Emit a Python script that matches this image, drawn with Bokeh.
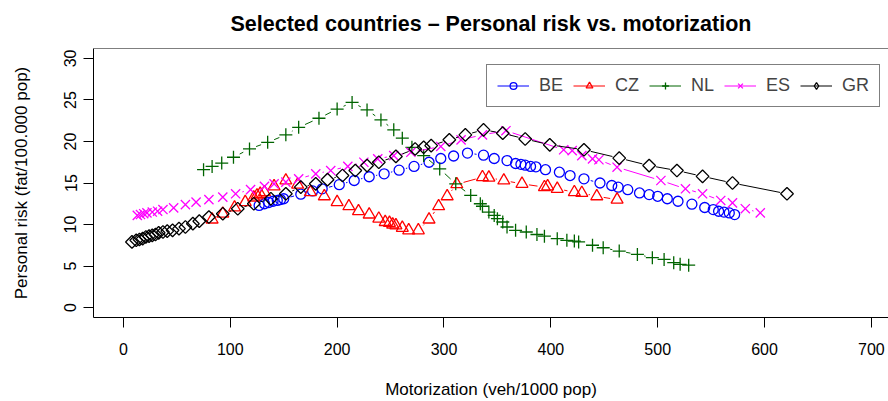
import numpy as np
from bokeh.plotting import figure
from bokeh.models import (Range1d, FixedTicker, Span, Legend, LegendItem,
                          ColumnDataSource)
from bokeh.embed import file_html
from bokeh.resources import INLINE

# ---------------- data ----------------
be_x = [127, 132, 136, 140, 144, 147, 150, 166, 177, 186, 202, 216, 230, 244, 258, 272,
        286, 297, 309, 322, 337, 347, 359, 367, 372, 376, 381, 386, 395, 408, 418, 431,
        446, 457, 463, 472, 483, 492, 500, 509, 519, 532, 544, 552, 557, 562, 567, 572]
be_y = [12.3, 12.5, 12.65, 12.8, 12.9, 13.0, 13.1, 13.65, 14.05, 14.3, 14.8, 15.3, 15.75,
        16.1, 16.55, 17.0, 17.5, 17.95, 18.25, 18.6, 18.35, 17.95, 17.7, 17.35, 17.25,
        17.15, 17.0, 16.95, 16.6, 16.3, 15.9, 15.5, 15.0, 14.7, 14.5, 14.2, 13.8, 13.6,
        13.4, 13.1, 12.8, 12.45, 12.05, 11.8, 11.6, 11.5, 11.4, 11.2]

cz_x = [83, 93, 104, 114, 122, 125, 128, 132, 141, 152, 163, 175, 188, 200, 211, 220, 230,
        239, 245, 249, 252, 255, 261, 267, 276, 286, 295, 303, 312, 336, 342, 356, 373,
        394, 397, 406, 422, 429, 443, 462]
cz_y = [10.6, 11.3, 12.05, 12.7, 13.25, 13.5, 13.7, 13.9, 14.6, 15.3, 14.8, 13.9, 13.4,
        12.7, 12.2, 11.6, 11.2, 10.7, 10.3, 10.2, 10.0, 9.9, 9.6, 9.3, 9.3, 10.6, 12.2,
        13.4, 14.85, 15.7, 15.65, 15.3, 14.9, 14.5, 14.6, 14.3, 13.9, 13.8, 13.4, 13.0]

nl_x = [75, 83, 92, 103, 118, 135, 152, 164, 183, 200, 214, 228, 241, 253, 261, 270, 281,
        296, 311, 325, 334, 336, 342, 347, 350, 355, 359, 367, 377, 387, 394, 406, 415,
        422, 426, 439, 449, 464, 481, 495, 506, 515, 521, 529]
nl_y = [16.6, 17.0, 17.4, 18.1, 19.1, 19.9, 20.8, 21.7, 22.8, 23.9, 24.7, 23.8, 22.6, 21.4,
        20.4, 19.3, 18.3, 16.7, 14.9, 13.5, 12.5, 12.2, 11.5, 11.1, 10.7, 10.3, 9.7, 9.3,
        9.1, 8.8, 8.6, 8.3, 8.1, 8.0, 7.9, 7.5, 7.2, 6.8, 6.4, 6.0, 5.8, 5.4, 5.2, 5.1]

es_x = [13, 16, 19, 22, 27, 32, 37, 47, 58, 68, 80, 93, 105, 119, 132, 141, 152, 164, 180,
        194, 210, 225, 238, 253, 269, 297, 316, 336, 358, 412, 420, 429, 439, 445, 462,
        503, 526, 542, 559, 570, 582, 596]
es_y = [11.1, 11.2, 11.3, 11.4, 11.5, 11.6, 11.8, 12.0, 12.4, 12.7, 13.0, 13.3, 13.7, 14.2,
        14.6, 14.9, 15.1, 15.5, 16.1, 16.5, 17.0, 17.5, 17.9, 18.3, 18.7, 19.4, 20.2, 20.8,
        21.3, 19.0, 18.9, 18.3, 17.9, 17.8, 16.9, 15.3, 14.3, 13.7, 12.9, 12.6, 11.9, 11.4]

gr_x = [8, 12, 15, 18, 21, 24, 27, 30, 33, 37, 41, 46, 52, 58, 65, 71, 80, 93, 107, 122,
        138, 152, 166, 180, 191, 205, 217, 228, 239, 255, 273, 281, 288, 305, 320, 337,
        355, 376, 399, 431, 464, 492, 518, 542, 570, 621]
gr_y = [7.9, 8.1, 8.2, 8.3, 8.5, 8.6, 8.7, 8.8, 9.0, 9.1, 9.2, 9.3, 9.5, 9.7, 10.1, 10.4,
        10.9, 11.3, 11.9, 12.5, 13.1, 13.7, 14.5, 14.9, 15.4, 15.9, 16.5, 17.1, 17.5, 18.2,
        19.1, 19.3, 19.5, 20.2, 20.8, 21.4, 21.0, 20.3, 19.6, 19.0, 18.0, 17.1, 16.5, 15.8,
        15.0, 13.7]

countries = ["BE", "CZ", "NL", "ES", "GR"]
x_ticks = [0, 100, 200, 300, 400, 500, 600, 700]
y_ticks = [0, 5, 10, 15, 20, 25, 30]
title_text = "Selected countries \u2013 Personal risk vs. motorization"

# ---------------- figure ----------------
X0, X1 = -28, 716
Y0, Y1 = -1.2, 31.2
FRAME_W, FRAME_H = 795, 270
FONT = "Liberation Sans"

p = figure(width=888, height=401, x_range=Range1d(X0, X1), y_range=Range1d(Y0, Y1),
           output_backend="svg", toolbar_location=None,
           min_border_left=93, min_border_right=0, min_border_top=48, min_border_bottom=83)
p.extra_y_ranges = {"hidden": Range1d(1000, 1001)}
p.grid.visible = False
p.outline_line_color = None
p.background_fill_color = "white"
p.border_fill_color = "white"

p.title.text = title_text
p.title.text_font = FONT
p.title.text_font_size = "21.5px"
p.title.text_font_style = "bold"
p.title.text_color = "black"
p.title.align = "center"
p.title.vertical_align = "top"
p.title.standoff = 22

for ax in (p.xaxis[0], p.yaxis[0]):
    ax.axis_line_color = "black"
    ax.axis_line_width = 1
    ax.major_tick_out = 10
    ax.major_tick_in = 0
    ax.minor_tick_out = 0
    ax.minor_tick_in = 0
    ax.major_tick_line_color = "black"
    ax.major_label_text_font = FONT
    ax.major_label_text_font_size = "16px"
    ax.major_label_text_color = "black"
    ax.axis_label_text_font = FONT
    ax.axis_label_text_font_size = "17px"
    ax.axis_label_text_font_style = "normal"
    ax.axis_label_text_color = "black"

p.xaxis.ticker = FixedTicker(ticks=x_ticks)
p.yaxis.ticker = FixedTicker(ticks=y_ticks)
p.xaxis.major_label_standoff = 15
p.yaxis.major_label_standoff = 7
p.yaxis.major_label_orientation = "vertical"
p.xaxis.axis_label = "Motorization (veh/1000 pop)"
p.yaxis.axis_label = "Personal risk (fat/100.000 pop)"
p.xaxis.axis_label_standoff = 22
p.yaxis.axis_label_standoff = 31

p.add_layout(Span(location=Y1, dimension="width", line_color="black", line_width=1))

# ---------------- series ----------------
sx = FRAME_W / (X1 - X0)
sy = FRAME_H / (Y1 - Y0)
GAP = 7.0


def gapped_segments(xs, ys):
    x0s, y0s, x1s, y1s = [], [], [], []
    for i in range(len(xs) - 1):
        dxp = (xs[i + 1] - xs[i]) * sx
        dyp = (ys[i + 1] - ys[i]) * sy
        d = (dxp ** 2 + dyp ** 2) ** 0.5
        if d > 2 * GAP + 0.5:
            f = GAP / d
            x0s.append(xs[i] + (xs[i + 1] - xs[i]) * f)
            y0s.append(ys[i] + (ys[i + 1] - ys[i]) * f)
            x1s.append(xs[i + 1] - (xs[i + 1] - xs[i]) * f)
            y1s.append(ys[i + 1] - (ys[i + 1] - ys[i]) * f)
    return dict(x0=x0s, y0=y0s, x1=x1s, y1=y1s)


series = [
    ("BE", be_x, be_y, "#0000FF", dict(marker="circle", size=10), None),
    ("CZ", cz_x, cz_y, "#FF0000", dict(marker="triangle", size=12), None),
    ("NL", nl_x, nl_y, "#006400", dict(marker="cross", size=13), None),
    ("ES", es_x, es_y, "#FF00FF", dict(marker="x", size=13), None),
    ("GR", gr_x, gr_y, "#000000", dict(marker="square", size=9, angle=np.pi / 4), "diamond"),
]

items = []
for name, xs, ys, col, mk, legend_marker in series:
    seg = p.segment("x0", "y0", "x1", "y1", source=ColumnDataSource(gapped_segments(xs, ys)),
                    line_color=col, line_width=1)
    sc = p.scatter(xs, ys, fill_color=None, line_color=col, line_width=1.3, **mk)
    rends = [seg, sc]
    if legend_marker is not None:
        # marker used only for the legend key (drawn against an off-screen range)
        lg = p.scatter(xs, ys, marker=legend_marker, fill_color=None, line_color=col,
                       line_width=1.3, size=12, y_range_name="hidden")
        rends = [seg, lg]
    items.append(LegendItem(label=name, renderers=rends))

legend = Legend(items=items, orientation="horizontal", location=(393, 210),
                glyph_width=32, glyph_height=17, label_standoff=10, spacing=10,
                padding=10, margin=0, border_line_color="black", border_line_width=1,
                label_text_font=FONT, label_text_font_size="18px",
                background_fill_color="white", background_fill_alpha=1.0)
p.add_layout(legend)

open("out.html", "w").write(file_html(p, INLINE))
